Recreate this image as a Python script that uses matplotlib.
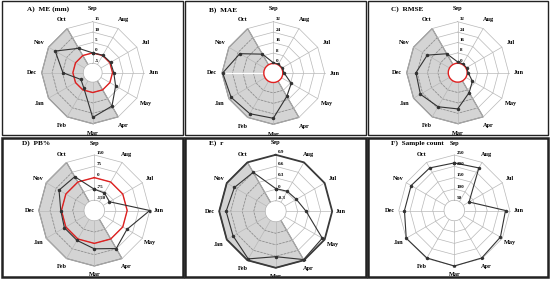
import numpy as np
import matplotlib
matplotlib.use('Agg')
import matplotlib.pyplot as plt
from matplotlib.patches import Rectangle

plt.rcParams['font.family'] = ['Liberation Serif', 'DejaVu Serif']
plt.rcParams['font.weight'] = 'bold'

# months counter-clockwise starting at the top
months = ['Sep', 'Oct', 'Nov', 'Dec', 'Jan', 'Feb', 'Mar', 'Apr', 'May', 'Jun', 'Jul', 'Aug']

me_mm = [0.0, 4.0, 11.3, 4.8, -3.0, -1.0, 12.0, 9.0, 3.2, 0.6, 0.4, 0.2]
mae = [0.6, 9.4, 22.3, 31.5, 30.0, 28.7, 27.4, 13.4, 8.6, 1.0, 0.6, 0.5]
rmse = [1.0, 9.6, 19.8, 24.9, 25.9, 23.0, 20.6, 10.4, 5.8, 0.8, 0.6, 0.6]
pb = [-77, 41, 52, 4.5, 11, 11, 36, 73, 32, 150, -102, -84]
corr = [0.02, 0.60, 0.67, 0.72, 0.71, 0.86, 0.61, 0.88, 0.83, 0.22, 0.05, 0.03]
count = [215, 222, 225, 225, 250, 247, 250, 247, 240, 231, 80, 222]

lev_me = [-5, 0, 5, 10, 15]
lev_err = [0, 8, 16, 24, 32]
lev_pb = [-150, -75, 0, 75, 150]
lev_r = [-0.3, 0, 0.3, 0.6, 0.9]
lev_n = [50, 100, 150, 200, 250]
lab_r = ['-0.3', '0', '0.3', '0.6', '0.9']

W, H = 550, 283
fig = plt.figure(figsize=(W / 100, H / 100), dpi=100)

# panel frames (pixels: x0, y0, x1, y1)
frames = [(2, 1, 183, 135, 1.0), (185, 1, 366, 135, 1.0), (368, 1, 548, 135, 1.0),
          (2, 138, 183, 277, 1.8), (185, 138, 366, 277, 1.8), (368, 138, 548, 277, 1.8)]
for x0, y0, x1, y1, lw in frames:
    fig.add_artist(Rectangle((x0 / W, 1 - y1 / H), (x1 - x0) / W, (y1 - y0) / H,
                             transform=fig.transFigure, fill=False, ec='#222222', lw=lw))

panels = [
    dict(title='A)  ME (mm)', vals=me_mm, lev=lev_me, red=0, shade=True, c=(92.7, 72.7), R=51, tp=(27, 9), k=1.2),
    dict(title='B)  MAE', vals=mae, lev=lev_err, red=0, shade=True, c=(273.3, 73), R=51.3, tp=(209, 10), k=1.2, white=True),
    dict(title='C)  RMSE', vals=rmse, lev=lev_err, red=0, shade=True, c=(457.7, 72.7), R=51, tp=(391, 9), k=1.2),
    dict(title='D)  PB%', vals=pb, lev=lev_pb, red=0, shade=True, c=(94.3, 210.5), R=55.5, tp=(22, 143), k=1.16),
    dict(title='E)  r', vals=corr, lev=lev_r, red=None, shade=True, c=(275.7, 211.3), R=56.5, tp=(209, 143), k=1.16,
         labels=lab_r, dark_outer=True),
    dict(title='F)  Sample count', vals=count, lev=lev_n, red=None, shade=False, c=(454.3, 210.5), R=55.5, tp=(391, 143), k=1.16),
]

theta = np.arange(12) * 2 * np.pi / 12
tclosed = np.append(theta, theta[0])
hole = 0.185

for p in panels:
    rmin, rmax = p['lev'][0], p['lev'][-1]
    origin = rmin - hole / (1 - hole) * (rmax - rmin)
    top = rmax + 0.03 * (rmax - origin)
    hs = p['R'] * (top - origin) / (rmax - origin)
    cx, cy = p['c']
    ax = fig.add_axes([(cx - hs) / W, 1 - (cy + hs) / H, 2 * hs / W, 2 * hs / H], projection='polar')
    ax.set_theta_offset(np.pi / 2)
    ax.set_rorigin(origin)
    ax.set_ylim(rmin, top)
    ax.set_xticks([])
    ax.set_yticks([])
    ax.grid(False)
    ax.patch.set_alpha(0)
    ax.spines['polar'].set_visible(False)
    ax.spines['inner'].set_color('#e02020' if p['red'] == rmin else '#b0b0b0')
    ax.spines['inner'].set_linewidth(1.0 if p['red'] == rmin else 0.5)

    # shaded wet-season sector Oct..Apr
    if p['shade']:
        ts = list(theta[1:8]) + [theta[4]]
        rs = [rmax] * 7 + [origin]
        ax.fill(ts, rs, color='#d4d4d4', ec='#707070', lw=0.8, zorder=1)

    # polygon rings and spokes
    for lv in p['lev'][1:]:
        ax.plot(tclosed, [lv] * 13, color='#b8b8b8', lw=0.5, zorder=2)
        if p['shade'] and lv < rmax:
            ax.plot(theta[1:8], [lv] * 7, color='#8a8a8a', lw=0.5, ls=(0, (3, 2)), zorder=2)
    for t in theta:
        ax.plot([t, t], [rmin, rmax], color='#b8b8b8', lw=0.5, zorder=2)
    if p.get('white'):
        ax.plot([theta[3], theta[3]], [rmin, rmax], color='white', lw=0.9, zorder=2)
    if p.get('dark_outer'):
        ax.plot(tclosed, [rmax] * 13, color='#3a3a3a', lw=1.3, zorder=3)
    if p['red'] is not None and p['red'] > rmin:
        ax.plot(tclosed, [p['red']] * 13, color='#e02020', lw=1.0, zorder=3)

    v = list(p['vals'])
    ax.plot(tclosed, v + [v[0]], color='#333333', lw=0.8, marker='o', ms=1.5, zorder=4)

    # tick labels on the Sep spoke
    labs = p.get('labels', [str(l) for l in p['lev']])
    for lv, s in zip(p['lev'], labs):
        ax.annotate(s, (0, lv), xytext=(1.5, 0.3), textcoords='offset points',
                    ha='left', va='bottom', fontsize=3.6, fontweight='bold', zorder=5)

    # month labels (Sep pushed a bit higher to clear the top tick label)
    for t, m in zip(theta, months):
        kk = p['k'] + (0.05 if m == 'Sep' else 0)
        rl = origin + kk * (rmax - origin)
        ax.text(t, rl, m, ha='center', va='center', fontsize=4.5, fontweight='bold')

    fig.text(p['tp'][0] / W, 1 - p['tp'][1] / H, p['title'], ha='left', va='center',
             fontsize=5.2, fontweight='bold')

fig.savefig('out.png', dpi=100)
